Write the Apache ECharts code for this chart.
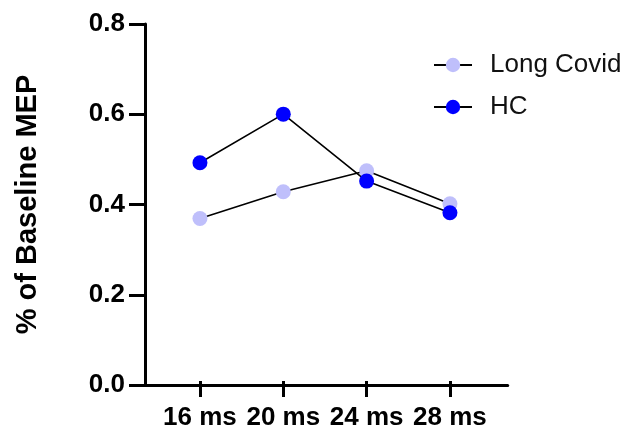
<!DOCTYPE html>
<html>
<head>
<meta charset="utf-8">
<script src="https://cdn.jsdelivr.net/npm/echarts@6/dist/echarts.min.js"></script>
<style>
  html, body { margin: 0; padding: 0; background: #fff; }
  #main { width: 622px; height: 431px; }
</style>
</head>
<body>
<div id="main"></div>
<script>
/* 数据 */
const categories = ['16 ms', '20 ms', '24 ms', '28 ms']
const longCovid = [0.364, 0.424, 0.471, 0.397]
const hc = [0.489, 0.598, 0.448, 0.377]
const yTicks = [0, 0.2, 0.4, 0.6, 0.8]

const font = 'Liberation Sans, Arial, Helvetica, sans-serif'

var myChart = echarts.init(document.getElementById('main'))
const option = {
  animation: false,
  legend: {
    orient: 'vertical',
    left: 428,
    top: 47,
    itemGap: 16,
    itemWidth: 38,
    itemHeight: 18,
    textStyle: { fontFamily: font, fontSize: 26, color: '#111', padding: [0, 0, 0, 13] },
    data: ['Long Covid', 'HC'],
  },
  grid: [
    // 轴线用的网格（x轴线比数据区更宽）
    { left: 145, top: 24, width: 362.7, bottom: 46 },
    // 数据网格
    { left: 158.3, top: 24, width: 333.3, bottom: 46 },
  ],
  xAxis: [
    {
      gridIndex: 0,
      type: 'value',
      min: 0,
      max: 1,
      axisLine: { show: true, lineStyle: { color: '#000', width: 3 } },
      axisTick: { show: false },
      axisLabel: { show: false },
      splitLine: { show: false },
    },
    {
      gridIndex: 1,
      type: 'category',
      boundaryGap: true,
      data: categories,
      axisLine: { show: false },
      axisTick: { show: true, alignWithLabel: true, length: 16, lineStyle: { color: '#000', width: 3 } },
      axisLabel: { interval: 0, margin: 24, color: '#000', fontFamily: font, fontSize: 26, fontWeight: 'bold' },
    },
  ],
  yAxis: [
    {
      gridIndex: 0,
      type: 'value',
      min: 0,
      max: 0.8,
      interval: 0.2,
      name: '% of Baseline MEP',
      nameLocation: 'middle',
      nameGap: 103,
      nameTextStyle: { fontFamily: font, fontSize: 29, fontWeight: 'bold', color: '#000' },
      axisLine: { show: true, lineStyle: { color: '#000', width: 3 } },
      axisTick: { show: true, length: 16, lineStyle: { color: '#000', width: 3 } },
      axisLabel: {
        margin: 20,
        color: '#000',
        fontFamily: font,
        fontSize: 26,
        fontWeight: 'bold',
        formatter: (v) => (yTicks.indexOf(v) >= 0 ? v.toFixed(1) : ''),
      },
      splitLine: { show: false },
    },
    {
      gridIndex: 1,
      type: 'value',
      min: 0,
      max: 0.8,
      show: false,
    },
  ],
  series: [
    {
      name: 'Long Covid',
      type: 'line',
      xAxisIndex: 1,
      yAxisIndex: 1,
      data: longCovid,
      symbol: 'circle',
      symbolSize: 15,
      itemStyle: { color: '#bfbffb' },
      lineStyle: { color: '#000', width: 1.6 },
    },
    {
      name: 'HC',
      type: 'line',
      xAxisIndex: 1,
      yAxisIndex: 1,
      data: hc,
      symbol: 'circle',
      symbolSize: 15,
      itemStyle: { color: '#0000ff' },
      lineStyle: { color: '#000', width: 1.6 },
    },
  ],
}
myChart.setOption(option)
</script>
</body>
</html>
